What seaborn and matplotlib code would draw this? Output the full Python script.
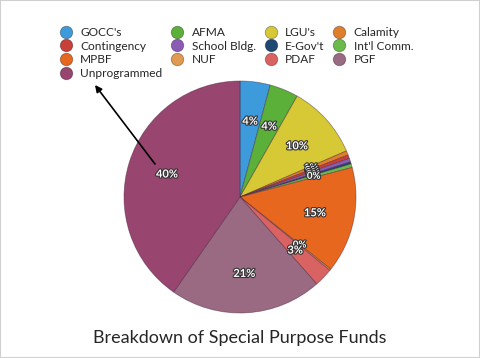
import matplotlib
matplotlib.use("Agg")
import matplotlib.pyplot as plt
from matplotlib.lines import Line2D
from matplotlib.patches import Rectangle
import matplotlib.patheffects as pe
import seaborn as sns

labels = ["GOCC's", "AFMA", "LGU's", "Calamity", "Contingency", "School Bldg.",
          "E-Gov't", "Int'l Comm.", "MPBF", "NUF", "PDAF", "PGF", "Unprogrammed"]
shares = [4.2, 4.0, 10.3, 0.6, 0.5, 0.5, 0.3, 0.5, 14.8, 0.2, 2.6, 21.2, 40.3]
colors = ["#3d9bdc", "#5bb03a", "#d6c935", "#df7f2c", "#c9403b", "#8a5cb5",
          "#1e4874", "#6cba4c", "#e8671f", "#e19a52", "#d96262", "#9a6a82", "#984570"]
title = "Breakdown of Special Purpose Funds"

sns.set_theme(style="white")
plt.rcParams["font.family"] = ["Lato", "DejaVu Sans"]
palette = sns.color_palette(colors)

W, H = 480, 358
fig = plt.figure(figsize=(W / 100, H / 100), dpi=100)
cx, cy, r = 240, 197, 116
ax = fig.add_axes([(cx - r) / W, (H - cy - r) / H, 2 * r / W, 2 * r / H])

wedges, texts, autotexts = ax.pie(
    shares, colors=palette, startangle=90, counterclock=False,
    autopct="%1.0f%%", pctdistance=0.66, radius=1,
    wedgeprops=dict(edgecolor=(0.25, 0.1, 0.2, 0.45), linewidth=0.6),
)
for t, v in zip(autotexts, shares):
    t.set_color("white")
    t.set_fontsize(8 if v >= 2 else 7)
    t.set_fontweight("bold")
    t.set_path_effects([pe.withStroke(linewidth=1.6, foreground="#333333")])
ax.set_xlim(-1, 1)
ax.set_ylim(-1, 1)
ax.set_aspect("equal")
ax.axis("off")

# legend filled row by row (4 columns)
ncol = 4
order = []
for c in range(ncol):
    order += list(range(c, len(labels), ncol))
handles = [Line2D([], [], marker="o", linestyle="", markersize=9,
                  markerfacecolor=palette[i], markeredgecolor=(0, 0, 0, 0.35),
                  markeredgewidth=0.6) for i in order]
fig.legend(handles, [labels[i] for i in order], ncol=ncol,
           loc="upper left", bbox_to_anchor=(54 / W, 1 - 21 / H),
           bbox_transform=fig.transFigure, frameon=False, fontsize=8.6,
           handlelength=1.0, handletextpad=0.7, columnspacing=0.75,
           labelspacing=0.22, borderpad=0)

ax.annotate("", xy=(95, H - 85), xycoords="figure pixels",
            xytext=(155, H - 164), textcoords="figure pixels",
            arrowprops=dict(arrowstyle="-|>", color="black", lw=1.2,
                            mutation_scale=10, shrinkA=0, shrinkB=0))

fig.text(0.5, 1 - 338 / H, title, ha="center", va="center", fontsize=13)
fig.patches.append(Rectangle((0, 0), 1, 1, transform=fig.transFigure,
                             fill=False, edgecolor="#d0d0d0", linewidth=1.5))

fig.savefig("out.png", dpi=100)
